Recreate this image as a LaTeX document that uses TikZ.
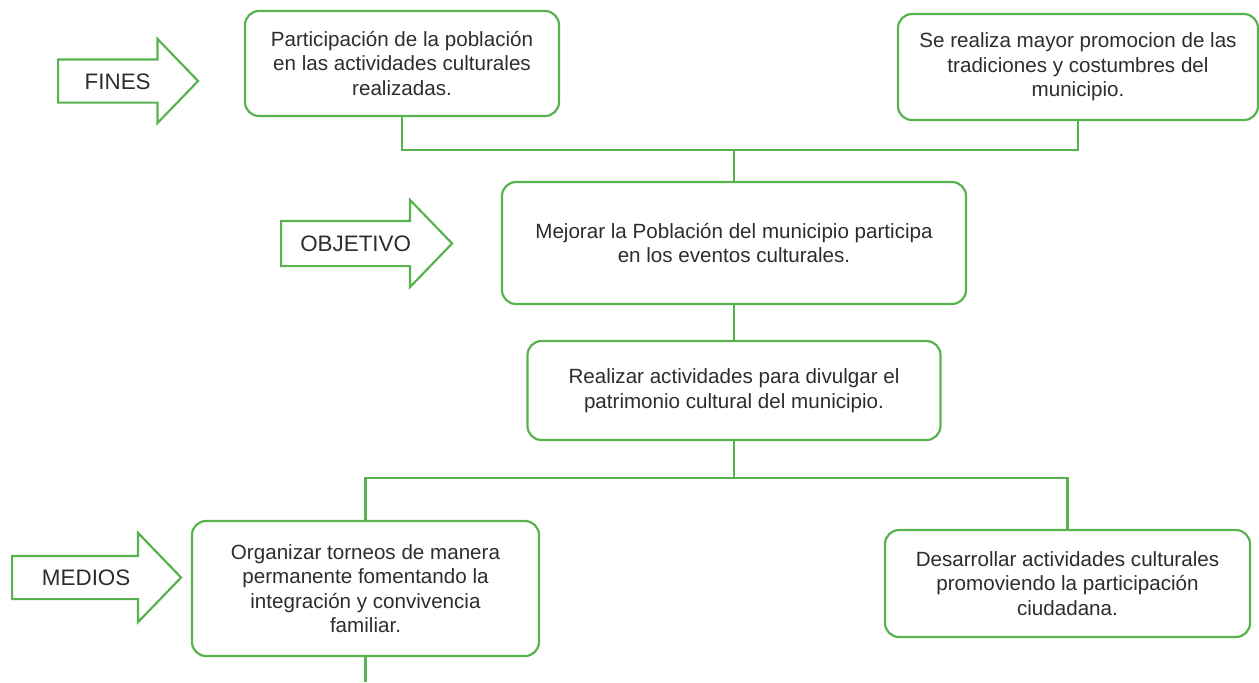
\documentclass[tikz,border=0pt]{standalone}
\usepackage{fontspec}
\setmainfont{Liberation Sans}
\usepackage{xcolor}
\usetikzlibrary{shapes.arrows,positioning}
\definecolor{verdecaja}{RGB}{88,178,78}
\definecolor{textogris}{RGB}{45,45,45}

\begin{document}
\begin{tikzpicture}[x=0.5pt,y=-0.5pt,
  caja/.style={draw=verdecaja, line width=1.1pt, rounded corners=7pt, align=center, text=textogris, inner sep=0pt, font=\fontsize{10.3}{12.2}\selectfont},
  flecha/.style={draw=verdecaja, line width=1.1pt, single arrow, single arrow tip angle=92, text=textogris, text height=8pt, text depth=0pt, font=\fontsize{11.2}{13}\selectfont},
  linea/.style={draw=verdecaja, line width=1.1pt},
]
\useasboundingbox (0,0) rectangle (1259,682);

\node[caja, minimum width=157pt, minimum height=52.5pt] (fin1) at (402,63.5) {Participación de la población\\en las actividades culturales\\realizadas.};
\node[caja, minimum width=180pt, minimum height=53pt] (fin2) at (1078,67) {Se realiza mayor promocion de las\\tradiciones y costumbres del\\municipio.};
\node[caja, minimum width=232pt, minimum height=61pt] (obj) at (734,243) {Mejorar la Población del municipio participa\\en los eventos culturales.};
\node[caja, minimum width=206.5pt, minimum height=49.5pt] (act) at (734,390.5) {Realizar actividades para divulgar el\\patrimonio cultural del municipio.};
\node[caja, minimum width=173.5pt, minimum height=67.5pt] (med1) at (365.5,588.5) {Organizar torneos de manera\\permanente fomentando la\\integración y convivencia\\familiar.};
\node[caja, minimum width=182.5pt, minimum height=53.5pt] (med2) at (1067.5,583.5) {Desarrollar actividades culturales\\promoviendo la participación\\ciudadana.};

\node[flecha, inner ysep=6.25pt, single arrow head extend=10.25pt, minimum height=70pt, anchor=tail] (fines) at (57,81) {FINES};
\node[flecha, inner ysep=6.75pt, single arrow head extend=10.5pt, minimum height=85.5pt, anchor=tail] (objetivo) at (280,243.5) {OBJETIVO};
\node[flecha, inner ysep=6.25pt, single arrow head extend=11.5pt, minimum height=84.5pt, anchor=tail] (medios) at (11,577.5) {MEDIOS};

\coordinate (jf) at (734,150);
\coordinate (jm) at (734,478);
\coordinate (cola) at (365.5,682);

\draw[linea] (fin1.south) |- (jf) -| (fin2.south);
\draw[linea] (jf) -- (obj.north);
\draw[linea] (obj.south) -- (act.north);
\draw[linea] (act.south) -- (jm);
\draw[linea] (med1.north) |- (jm) -| (med2.north);
\draw[linea] (med1.south) -- (cola);

\end{tikzpicture}
\end{document}
